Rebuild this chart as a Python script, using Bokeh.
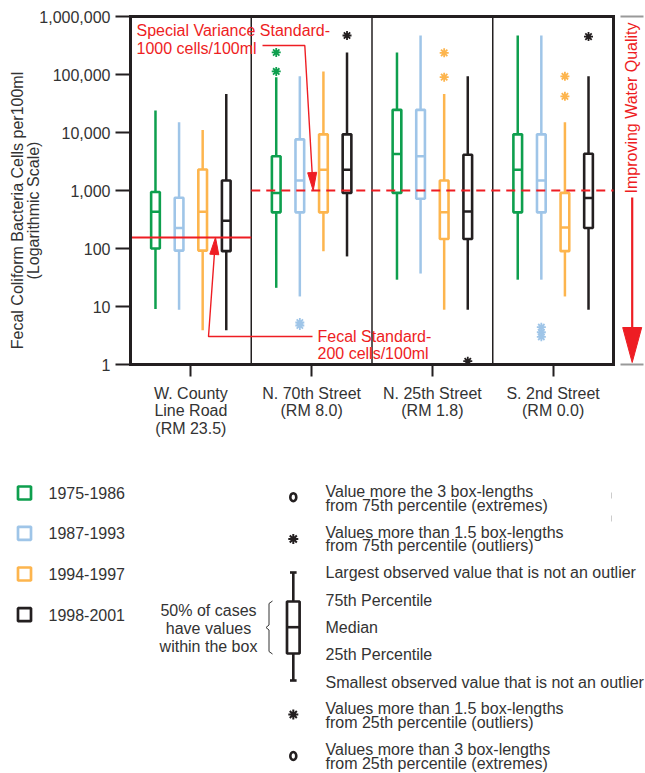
import math
from bokeh.plotting import figure
from bokeh.models import (Range1d, FixedTicker, NumeralTickFormatter, LogAxis, LinearAxis,
                          ColumnDataSource)
from bokeh.embed import file_html
from bokeh.resources import INLINE
from bokeh.core.properties import value

# ---------------- data ----------------
sites = ["W. County\nLine Road\n(RM 23.5)", "N. 70th Street\n(RM 8.0)",
         "N. 25th Street\n(RM 1.8)", "S. 2nd Street\n(RM 0.0)"]
periods = ["1975-1986", "1987-1993", "1994-1997", "1998-2001"]
colors = ["#0E9F4E", "#9FC5E8", "#FDB54E", "#231F20"]

# one value per site (W. County, N. 70th, N. 25th, S. 2nd)
low_1975 = [9.1, 21, 29, 29]
q1_1975 = [100, 420, 910, 420]
med_1975 = [430, 910, 4260, 2270]
q3_1975 = [940, 3900, 24600, 9300]
high_1975 = [24000, 90000, 240000, 470000]
out_1975 = [[], [240000, 113000], [], []]

low_1987 = [8.8, 14.9, 37, 29]
q1_1987 = [92, 420, 720, 420]
med_1987 = [225, 1490, 3900, 1490]
q3_1987 = [750, 7600, 24600, 9300]
high_1987 = [15000, 93000, 470000, 470000]
out_1987 = [[], [5.3, 4.7], [], [4.4, 3.6, 3.0]]

low_1994 = [3.9, 90, 8.8, 14.9]
q1_1994 = [92, 420, 146, 90]
med_1994 = [430, 2270, 420, 230]
q3_1994 = [2300, 9300, 1490, 910]
high_1994 = [11000, 113000, 46000, 15000]
out_1994 = [[], [], [236000, 90000], [93000, 42000]]

low_1998 = [3.9, 73, 8.8, 8.8]
q1_1998 = [90, 910, 146, 225]
med_1998 = [300, 2270, 435, 740]
q3_1998 = [1490, 9300, 4130, 4290]
high_1998 = [46000, 240000, 93000, 93000]
out_1998 = [[], [470000], [1.14], [450000]]

y_ticks = [1, 10, 100, 1000, 10000, 100000, 1000000]
fecal_standard_line = 155
special_variance = 1000

stats = [
    (low_1975, q1_1975, med_1975, q3_1975, high_1975, out_1975),
    (low_1987, q1_1987, med_1987, q3_1987, high_1987, out_1987),
    (low_1994, q1_1994, med_1994, q3_1994, high_1994, out_1994),
    (low_1998, q1_1998, med_1998, q3_1998, high_1998, out_1998),
]

# ---------------- layout constants ----------------
W, H = 645, 773
FL, FR, FT, FB = 130, 613, 16, 364      # page pixel edges of the plot box
RED = "#EE1D23"
TXT = "#333333"
K = "#231F20"
FONT = "Liberation Sans"
DODGE = 0.1954
BOXW = 0.072


def dx(px):
    return (px - FL) / ((FR - FL) / 4.0)


def dy(py):
    return 10 ** ((FB - py) / ((FB - FT) / 6.0))


p = figure(width=W, height=H, x_range=Range1d(dx(0), dx(W)), y_range=Range1d(dy(H), dy(0)),
           y_axis_type="log", x_axis_location=None, y_axis_location=None,
           output_backend="svg", toolbar_location=None, min_border=0)
p.grid.visible = False
p.outline_line_color = None
p.background_fill_color = "white"
p.border_fill_color = "white"

yax = LogAxis(fixed_location=0, bounds=(1, 1e6))
yax.ticker = FixedTicker(ticks=y_ticks, minor_ticks=[])
yax.formatter = NumeralTickFormatter(format="0,0")
yax.axis_line_width = 3
yax.axis_line_color = K
yax.axis_line_cap = "square"
yax.major_tick_out = 15
yax.major_tick_in = 0
yax.major_tick_line_width = 2
yax.major_tick_line_color = K
yax.minor_tick_out = 0
yax.minor_tick_in = 0
yax.major_label_text_font = FONT
yax.major_label_text_font_size = "16px"
yax.major_label_text_color = TXT
yax.major_label_standoff = 5
p.add_layout(yax, "left")

xax = LinearAxis(fixed_location=1, bounds=(0, 4))
xax.ticker = FixedTicker(ticks=[0.5, 1.5, 2.5, 3.5], minor_ticks=[])
xax.major_label_overrides = {0.5 + i: s for i, s in enumerate(sites)}
xax.axis_line_width = 3
xax.axis_line_color = K
xax.axis_line_cap = "square"
xax.major_tick_out = 12
xax.major_tick_in = 0
xax.major_tick_line_width = 2
xax.major_tick_line_color = K
xax.minor_tick_out = 0
xax.minor_tick_in = 0
xax.major_label_text_font = FONT
xax.major_label_text_font_size = "16px"
xax.major_label_text_color = TXT
xax.major_label_text_line_height = 1.05
xax.major_label_standoff = 8
p.add_layout(xax, "below")

# plot box top/right borders and site dividers
p.segment(x0=[0, 4], y0=[1e6, 1], x1=[4, 4], y1=[1e6, 1e6], line_color=K, line_width=3,
          line_cap="square")
p.segment(x0=[1, 2, 3], y0=[1] * 3, x1=[1, 2, 3], y1=[1e6] * 3, line_color=K, line_width=1.5)

offsets = [-1.5, -0.5, 0.5, 1.5]
for k, (lo, q1, md, q3, hi, outs) in enumerate(stats):
    xs = [i + 0.5 + offsets[k] * DODGE for i in range(len(sites))]
    src = ColumnDataSource(dict(x=xs, lo=lo, q1=q1, md=md, q3=q3, hi=hi,
                                xl=[x - BOXW / 2 for x in xs], xr=[x + BOXW / 2 for x in xs]))
    c = colors[k]
    p.segment(x0="x", y0="lo", x1="x", y1="hi", source=src, line_color=c, line_width=2.5)
    p.vbar(x="x", width=BOXW, bottom="q1", top="q3", source=src, fill_color="white",
           line_color=c, line_width=2.6)
    p.segment(x0="xl", y0="md", x1="xr", y1="md", source=src, line_color=c, line_width=2.5)
    ox, oy = [], []
    for i, o in enumerate(outs):
        for v in o:
            ox.append(xs[i])
            oy.append(v)
    if ox:
        p.scatter(ox, oy, marker="asterisk", size=9, line_color=c, line_width=1.8)

# standards
p.segment(x0=[0], x1=[1], y0=[fecal_standard_line], y1=[fecal_standard_line],
          line_color=RED, line_width=2)
p.segment(x0=[1], x1=[4], y0=[special_variance], y1=[special_variance],
          line_color=RED, line_width=2, line_dash="9 6")


def lab(px, py, texts, size="16px", color=TXT, align="left", angle=0.0):
    if isinstance(texts, str):
        texts = [texts]
        px, py = [px], [py]
    p.text(x=[dx(a) for a in px], y=[dy(b) for b in py], text=texts, text_font=value(FONT),
           text_font_size=size, text_color=color, text_align=align, text_baseline="middle",
           angle=angle)


def line(pxs, pys, color=RED, width=1.4):
    p.line(x=[dx(a) for a in pxs], y=[dy(b) for b in pys], line_color=color, line_width=width)


def head(tip, frm, length, width):
    (tx, ty), (fx, fy) = tip, frm
    vx, vy = tx - fx, ty - fy
    n = math.hypot(vx, vy)
    ux, uy = vx / n, vy / n
    bx, by = tx - ux * length, ty - uy * length
    nx, ny = -uy, ux
    pts = [(tx, ty), (bx + nx * width / 2, by + ny * width / 2), (bx - nx * width / 2, by - ny * width / 2)]
    p.patch(x=[dx(a) for a, _ in pts], y=[dy(b) for _, b in pts], fill_color=RED, line_color=RED,
            line_width=1)


# y axis title
lab(17, 210, "Fecal Coliform Bacteria Cells per100ml", align="center", angle=math.pi / 2)
lab(33, 210, "(Logarithmic Scale)", align="center", angle=math.pi / 2)

# special variance annotation
lab(136, 30, "Special Variance Standard-", color=RED)
lab(136, 47.5, "1000 cells/100ml", color=RED)
line([262, 304.3, 311.8], [45, 45, 175])
head((312.7, 190), (304.3, 45), 18, 9)

# fecal standard annotation
lab(317, 336, "Fecal Standard-", color=RED)
lab(317, 353, "200 cells/100ml", color=RED)
line([312, 208, 214], [336, 336, 252])
head((215, 237), (208, 336), 17, 9)

# improving water quality
lab(631, 107.5, "Improving Water Quality", color=RED, align="center", angle=math.pi / 2)
line([631.7, 631.7], [197, 335], width=2.2)
head((631.7, 362), (631.7, 197), 35, 19)
p.segment(x0=[dx(620)] * 2, x1=[dx(643)] * 2, y0=[1e6, 1], y1=[1e6, 1], line_color="#999999",
          line_width=2)

# ---------------- legend / key ----------------
leg_y = [492.5, 532.8, 573.5, 614.2]
p.scatter(x=[dx(24)] * 4, y=[dy(v) for v in leg_y], marker="square", size=13, fill_color="white",
          line_color=colors, line_width=2.7)
lab([48] * 4, leg_y, periods)

key_text = ["Value more the 3 box-lengths", "from 75th percentile (extremes)",
            "Values more than 1.5 box-lengths", "from 75th percentile (outliers)",
            "Largest observed value that is not an outlier", "75th Percentile", "Median",
            "25th Percentile", "Smallest observed value that is not an outlier",
            "Values more than 1.5 box-lengths", "from 25th percentile (outliers)",
            "Values more than 3 box-lengths", "from 25th percentile (extremes)"]
key_y = [490.7, 504.5, 531.7, 545, 572, 599.5, 626.7, 653.5, 681.5, 708, 721.7, 749, 762.7]
lab([325] * len(key_text), key_y, key_text)

lab([208] * 3, [610, 627.5, 645.5], ["50% of cases", "have values", "within the box"], align="center")
line([272, 268.5, 268.5, 265.5, 268.5, 268.5, 272], [600.5, 603, 624.5, 627, 629.5, 651, 653.5],
     color=TXT, width=1)

kx = 292.8
p.segment(x0=[dx(kx)] * 2 + [dx(kx - 3.3)] * 2, y0=[dy(572), dy(653), dy(572), dy(680)],
          x1=[dx(kx)] * 2 + [dx(kx + 3.3)] * 2, y1=[dy(601), dy(680), dy(572), dy(680)],
          line_color=K, line_width=2.6)
p.quad(left=[dx(kx - 6.3)], right=[dx(kx + 6.3)], top=[dy(601)], bottom=[dy(653)],
       fill_color="white", line_color=K, line_width=2.7)
p.segment(x0=[dx(kx - 6.3)], x1=[dx(kx + 6.3)], y0=[dy(626.7)], y1=[dy(626.7)], line_color=K,
          line_width=2.6)
p.scatter([dx(kx)] * 2, [dy(538.5), dy(714)], marker="asterisk", size=10, line_color=K,
          line_width=2.0)
p.ellipse(x=[dx(kx)] * 2, y=[dy(496.7), dy(755.5)], width=6, height=8, width_units="screen",
          height_units="screen", fill_color=None, line_color=K, line_width=2.6)
p.segment(x0=[dx(611)] * 2, x1=[dx(611)] * 2, y0=[dy(492), dy(515)], y1=[dy(498), dy(521)],
          line_color="#cccccc", line_width=1)

open("out.html", "w").write(file_html(p, INLINE))
